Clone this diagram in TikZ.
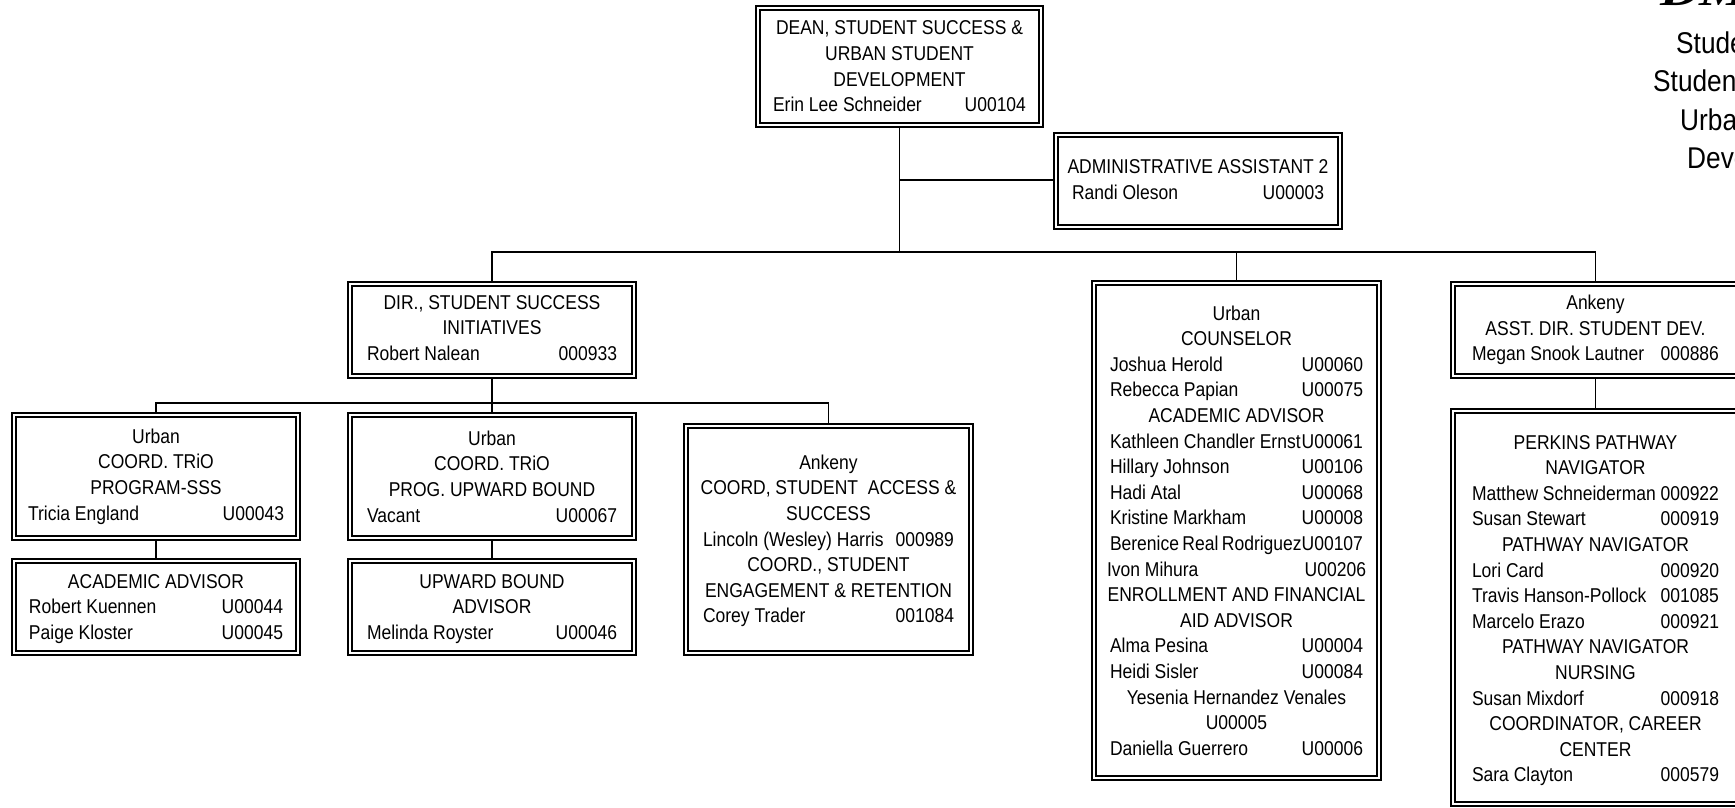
\documentclass[tikz,border=0pt]{standalone}
\usepackage{fontspec}
\setmainfont[FakeStretch=0.875]{Liberation Sans}
\newfontfamily\headfont[FakeStretch=1.25]{Liberation Serif}
\usetikzlibrary{backgrounds}
\tikzset{
  x=1pt,y=-1pt,
  orgbox/.style={draw=black,line width=1.4pt,double=white,double distance=2.6pt,rectangle,inner sep=0pt,font=\fontsize{20}{25.6}\selectfont},
  link/.style={draw=black,line width=1.8pt},
  headtext/.style={anchor=base west,inner sep=0pt,font=\fontsize{30}{36}\selectfont},
  logotext/.style={anchor=base west,inner sep=0pt,font=\headfont\bfseries\itshape\fontsize{44}{48}\selectfont},
}
% [text shift, up positive], name, x1, y1, x2, y2, inset, content
\newcommand{\obox}[8][0]{%
  \pgfmathsetmacro{\bw}{#5-#3}\pgfmathsetmacro{\bh}{#6-#4}%
  \pgfmathsetmacro{\tw}{#5-#3-2*#7}%
  \node[orgbox,minimum width=\bw pt,minimum height=\bh pt] (#2) at ({(#3+#5)/2},{(#4+#6)/2})
    {\raisebox{#1pt}[\height][\depth]{\parbox{\tw pt}{\centering #8}}};}
\newcommand{\nm}[2]{\makebox[\linewidth][s]{#1\hfill #2}\\}
\newcommand{\cl}[1]{\makebox[\linewidth]{#1}\\}
\begin{document}
\begin{tikzpicture}
\useasboundingbox (0,0) rectangle (1735,807);
\clip (0,0) rectangle (1735,807);
\obox{dean}{758}{8}{1041}{125}{15}{DEAN, STUDENT SUCCESS \&\\URBAN STUDENT\\DEVELOPMENT\\\nm{Erin Lee Schneider}{U00104}}
\obox[1.5]{admin}{1056}{135}{1340}{227}{16}{\cl{ADMINISTRATIVE ASSISTANT 2}\nm{Randi Oleson}{U00003}}
\obox[2]{dir}{350}{284}{634}{376}{17}{DIR., STUDENT SUCCESS\\INITIATIVES\\\nm{Robert Nalean}{000933}}
\obox{sss}{14}{415}{298}{538}{14}{Urban\\COORD. TRiO\\PROGRAM-SSS\\\nm{Tricia England}{U00043}}
\obox[-2]{aa}{14}{561}{298}{653}{15}{ACADEMIC ADVISOR\\\nm{Robert Kuennen}{U00044}\nm{Paige Kloster}{U00045}}
\obox{ub}{350}{415}{634}{538}{17}{Urban\\COORD. TRiO\\PROG. UPWARD BOUND\\\nm{Vacant}{U00067}}
\obox[-2]{uba}{350}{561}{634}{653}{17}{UPWARD BOUND\\ADVISOR\\\nm{Melinda Royster}{U00046}}
\obox[-1.5]{ank}{686}{426}{971}{653}{17}{Ankeny\\\cl{COORD, STUDENT\ \ ACCESS \&}SUCCESS\\\nm{Lincoln (Wesley) Harris}{000989}COORD., STUDENT\\ENGAGEMENT \& RETENTION\\\nm{Corey Trader}{001084}}
\obox{couns}{1094}{283}{1379}{778}{16}{Urban\\COUNSELOR\\\nm{Joshua Herold}{U00060}\nm{Rebecca Papian}{U00075}ACADEMIC ADVISOR\\\nm{Kathleen Chandler Ernst}{U00061}\nm{Hillary Johnson}{U00106}\nm{Hadi Atal}{U00068}\nm{Kristine Markham}{U00008}\nm{Berenice Real Rodriguez}{U00107}\nm{\hspace*{-3pt}Ivon Mihura}{U00206\hspace*{-3pt}}\cl{ENROLLMENT AND FINANCIAL}AID ADVISOR\\\nm{Alma Pesina}{U00004}\nm{Heidi Sisler}{U00084}Yesenia Hernandez Venales\\U00005\\\nm{Daniella Guerrero}{U00006}}
\obox{asst}{1453}{284}{1738}{376}{19}{Ankeny\\ASST. DIR. STUDENT DEV.\\\nm{Megan Snook Lautner}{000886}}
\obox[-3]{perk}{1453}{411}{1738}{804}{19}{PERKINS PATHWAY\\NAVIGATOR\\\nm{Matthew Schneiderman}{000922}\nm{Susan Stewart}{000919}PATHWAY NAVIGATOR\\\nm{Lori Card}{000920}\nm{Travis Hanson-Pollock}{001085}\nm{Marcelo Erazo}{000921}PATHWAY NAVIGATOR\\NURSING\\\nm{Susan Mixdorf}{000918}COORDINATOR, CAREER\\CENTER\\\nm{Sara Clayton}{000579}}
\node[logotext] (logo) at (1660,5) {DM};
\node[headtext] (h1) at (1676,53) {Stude};
\node[headtext] (h2) at (1653,91) {Studen};
\node[headtext] (h3) at (1680,130) {Urba};
\node[headtext] (h4) at (1687,168) {Deve};
\path (dean.south) ++(0,126) coordinate (bus);
\path (dean.south) ++(0,54) coordinate (adj);
\path (dir.south) ++(0,26) coordinate (busd);
\begin{pgfonlayer}{background}
\draw[link] (dean.south) -- (bus);
\draw[link] (adj) -- (admin.west |- adj);
\draw[link] (dir.north) |- (bus) -| (asst.north);
\draw[link] (couns.north) -- (couns.north |- bus);
\draw[link] (dir.south) -- (ub.north);
\draw[link] (sss.north) |- (busd) -| (ank.north);
\draw[link] (sss.south) -- (aa.north);
\draw[link] (ub.south) -- (uba.north);
\draw[link] (asst.south) -- (perk.north);
\end{pgfonlayer}
\end{tikzpicture}
\end{document}
